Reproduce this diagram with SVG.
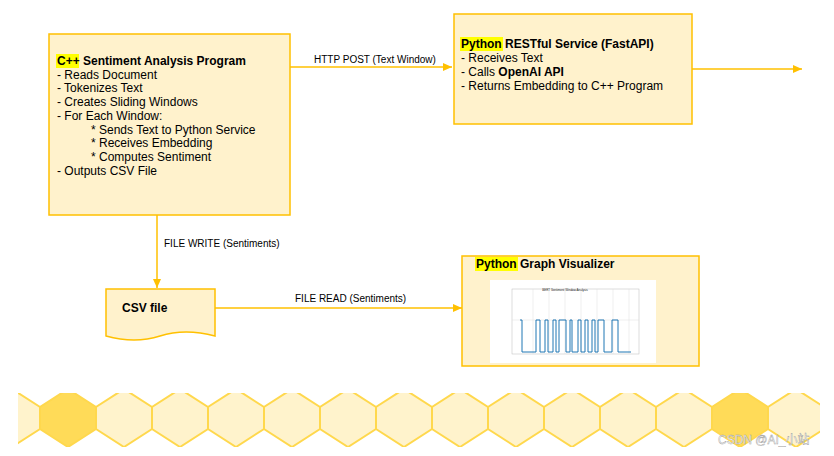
<svg xmlns="http://www.w3.org/2000/svg" width="834" height="456" viewBox="0 0 834 456">
<style>
.box{fill:#fff2cc;stroke:#ffc000;stroke-width:1.5}
.t{font-family:"Liberation Sans",Arial,sans-serif;font-size:12px;fill:#000}
.b{font-weight:bold}
.lab{font-family:"Liberation Sans",Arial,sans-serif;font-size:10px;fill:#000}
.c{stroke:#ffc000;stroke-width:1.5;fill:none}
.hx{fill:#fff3cc;stroke:#ffd84d;stroke-width:2}
.hd{fill:#ffdb58;stroke:#ffd84d;stroke-width:2}
</style>
<defs>
<marker id="ah" markerWidth="10" markerHeight="10" refX="9" refY="5" orient="auto" markerUnits="userSpaceOnUse"><path d="M0,1 L9,5 L0,9 Z" fill="#ffc000"/></marker>
<path id="hex" d="M0,-29 L28,-11 L28,11 L0,29 L-28,11 L-28,-11 Z"/>
<clipPath id="band"><rect x="18" y="393" width="802" height="54"/></clipPath>
</defs>
<rect width="834" height="456" fill="#fff"/>
<g id="connectors">
<path class="c" d="M290,67 H452" marker-end="url(#ah)"/>
<path class="c" d="M580,69 H802" marker-end="url(#ah)"/>
<path class="c" d="M157,215 V288" marker-end="url(#ah)"/>
<path class="c" d="M215,308 H462" marker-end="url(#ah)"/>
<text class="lab" x="314" y="63">HTTP POST (Text Window)</text>
<text class="lab" x="164" y="247">FILE WRITE (Sentiments)</text>
<text class="lab" x="295" y="302">FILE READ (Sentiments)</text>
</g>
<g id="cpp">
<rect class="box" x="49" y="34" width="241" height="181"/>
<rect x="56" y="54" width="23" height="14" fill="#ffff00"/>
<text class="t" x="57" y="65"><tspan class="b">C++ Sentiment Analysis Program</tspan></text>
<text class="t" x="57" y="79">- Reads Document</text>
<text class="t" x="57" y="92">- Tokenizes Text</text>
<text class="t" x="57" y="106">- Creates Sliding Windows</text>
<text class="t" x="57" y="120">- For Each Window:</text>
<text class="t" x="91" y="134">* Sends Text to Python Service</text>
<text class="t" x="91" y="147">* Receives Embedding</text>
<text class="t" x="91" y="161">* Computes Sentiment</text>
<text class="t" x="57" y="175">- Outputs CSV File</text>
</g>
<g id="python">
<rect class="box" x="454" y="14" width="238" height="110"/>
<rect x="460" y="37" width="43" height="14" fill="#ffff00"/>
<text class="t b" x="461" y="48">Python RESTful Service (FastAPI)</text>
<text class="t" x="461" y="62">- Receives Text</text>
<text class="t" x="461" y="76">- Calls <tspan class="b">OpenAI API</tspan></text>
<text class="t" x="461" y="90">- Returns Embedding to C++ Program</text>
</g>
<g id="csv">
<path class="box" d="M106,289 H215 V336 Q185,328 160,336 Q135,344 106,336 Z"/>
<text class="t b" x="122" y="312">CSV file</text>
</g>
<g id="viz">
<rect class="box" x="462" y="256" width="237" height="110"/>
<rect x="475" y="257" width="43" height="14" fill="#ffff00"/>
<text class="t b" x="476" y="268">Python Graph Visualizer</text>
<rect x="490" y="280" width="166" height="83" fill="#fff"/>
<text x="565" y="291" font-family="Liberation Sans,sans-serif" font-size="3" text-anchor="middle">BERT Sentiment Window Analysis</text>
<rect x="512" y="289" width="127" height="65" fill="none" stroke="#bbb" stroke-width="0.5"/>
<g stroke="#ddd" stroke-width="0.5">
<path d="M533,289V354M549,289V354M565,289V354M581,289V354M597,289V354M613,289V354M629,289V354M512,320H639"/>
</g>
<polyline fill="none" stroke="#1f77b4" stroke-width="1" points="520,320 522,320 522,352 536,352 536,320 540,320 540,352 545,352 545,320 548,320 548,352 553,352 553,320 556,320 556,352 559,352 559,320 566,320 566,352 570,352 570,320 572,320 572,352 578,352 578,320 581,320 581,352 585,352 585,320 588,320 588,352 592,352 592,320 595,320 595,352 598,352 598,320 604,320 604,352 612,352 612,320 618,320 618,352 631,352"/>
</g>
<g id="band" clip-path="url(#band)">
<g transform="translate(12,418)"><use href="#hex" class="hx"/></g>
<g transform="translate(68,418)"><use href="#hex" class="hd"/></g>
<g transform="translate(124,418)"><use href="#hex" class="hx"/></g>
<g transform="translate(180,418)"><use href="#hex" class="hx"/></g>
<g transform="translate(236,418)"><use href="#hex" class="hx"/></g>
<g transform="translate(292,418)"><use href="#hex" class="hx"/></g>
<g transform="translate(348,418)"><use href="#hex" class="hx"/></g>
<g transform="translate(404,418)"><use href="#hex" class="hx"/></g>
<g transform="translate(460,418)"><use href="#hex" class="hx"/></g>
<g transform="translate(516,418)"><use href="#hex" class="hx"/></g>
<g transform="translate(572,418)"><use href="#hex" class="hx"/></g>
<g transform="translate(628,418)"><use href="#hex" class="hx"/></g>
<g transform="translate(684,418)"><use href="#hex" class="hx"/></g>
<g transform="translate(740,418)"><use href="#hex" class="hd"/></g>
<g transform="translate(796,418)"><use href="#hex" class="hx"/></g>
</g>
<text x="718" y="444" font-family="Liberation Sans,Noto Sans CJK SC,sans-serif" font-size="12" fill="#fff" stroke="#999" stroke-width="0.4">CSDN @AI_小站</text>
</svg>
